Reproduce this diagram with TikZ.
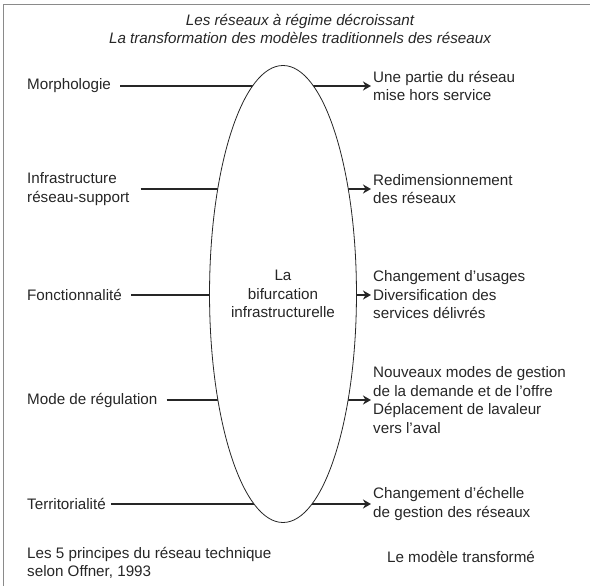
\documentclass[tikz,border=0pt]{standalone}
\usepackage{fontspec}
\setmainfont{Liberation Sans}
\usetikzlibrary{shapes.geometric,arrows.meta}
\definecolor{ink}{HTML}{262626}
\definecolor{frame}{HTML}{8A8A8A}
\begin{document}
\begin{tikzpicture}[x=1pt,y=-1pt,
  every node/.style={text=ink, font=\fontsize{15.2}{18.5}\selectfont, inner sep=0pt},
  lab/.style={anchor=west, align=left},
  conn/.style={draw=ink, line width=1.9pt},
  arr/.style={conn, -{Stealth[length=8pt,width=9pt,inset=2.5pt]}},
  bif/.style={ellipse, draw=ink, line width=0.8pt, fill=white, minimum width=135pt, minimum height=457pt, align=center}
]
\useasboundingbox (0,0) rectangle (590,586);
\draw[frame, line width=0.8pt] (3,586) -- (3,4) -- (590,4);

\node[align=center, font=\fontsize{15.2}{18.5}\selectfont\itshape] (title) at (300,29)
  {Les réseaux à régime décroissant\\La transformation des modèles traditionnels des réseaux};

\node[lab] (l1) at (27,86) {Morphologie};
\node[lab] (l2) at (27,189) {Infrastructure\\réseau-support};
\node[lab] (l3) at (27,295) {Fonctionnalité};
\node[lab] (l4) at (27,400) {Mode de régulation};
\node[lab] (l5) at (27,504) {Territorialité};

\node[lab] (r1) at (373,86) {Une partie du réseau\\mise hors service};
\node[lab] (r2) at (373,189) {Redimensionnement\\des réseaux};
\node[lab] (r3) at (373,295) {Changement d’usages\\Diversification des\\services délivrés};
\node[lab] (r4) at (373,400) {Nouveaux modes de gestion\\de la demande et de l’offre\\Déplacement de lavaleur\\vers l’aval};
\node[lab] (r5) at (373,504) {Changement d’échelle\\de gestion des réseaux};

\draw[arr] ([xshift=9pt]l1.east) -- ([xshift=-2pt]r1.west);
\draw[arr] ([xshift=11pt]l2.east) -- ([xshift=-2pt]r2.west);
\draw[arr] ([xshift=9pt]l3.east) -- ([xshift=-2pt]r3.west);
\draw[arr] ([xshift=9pt]l4.east) -- ([xshift=-2pt]r4.west);
\draw[arr] ([xshift=5pt]l5.east) -- ([xshift=-2pt]r5.west);

\node[bif] (E) at (283,294) {La\\bifurcation\\infrastructurelle};

\node[lab] (src) at (27,563) {Les 5 principes du réseau technique\\selon Offner, 1993};
\node[anchor=center] (mod) at (461,557) {Le modèle transformé};
\end{tikzpicture}
\end{document}
